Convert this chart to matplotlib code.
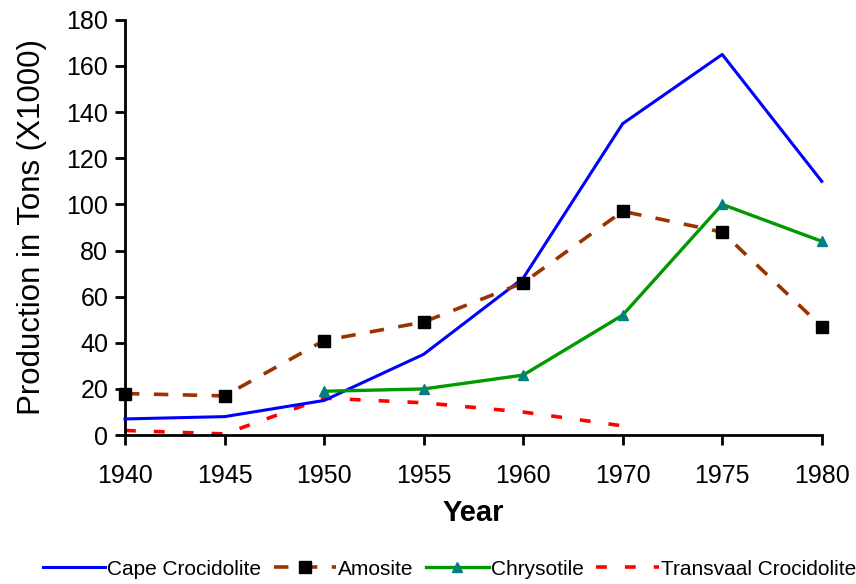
import matplotlib
matplotlib.use("Agg")
import matplotlib.pyplot as plt
import numpy as np

years = ["1940", "1945", "1950", "1955", "1960", "1970", "1975", "1980"]
cape = [7, 8, 15, 35, 68, 135, 165, 110]
amosite = [18, 17, 41, 49, 66, 97, 88, 47]
chrysotile = [None, None, 19, 20, 26, 52, 100, 84]
transvaal = [2, 0.5, 16, 14, 10, 4, None, None]
yticks = [0, 20, 40, 60, 80, 100, 120, 140, 160, 180]

plt.rcParams['font.family'] = ['Liberation Sans', 'DejaVu Sans']

fig = plt.figure(figsize=(8.56, 5.84), dpi=100)
ax = fig.add_axes([0.146, 0.255, 0.814, 0.711])

x = np.arange(len(years))

def arr(v):
    return np.array([np.nan if a is None else a for a in v], dtype=float)

ax.plot(x, arr(cape), color='#0000ff', lw=2.2, label='Cape Crocidolite', zorder=3,
        clip_on=False)
ax.plot(x, arr(amosite), color='#993300', lw=2.6, ls=(0, (4, 4)), marker='s',
        markersize=9, markerfacecolor='black', markeredgecolor='black',
        label='Amosite', zorder=4, clip_on=False)
ax.plot(x, arr(chrysotile), color='#009900', lw=2.4, marker='^', markersize=7,
        markerfacecolor='#008080', markeredgecolor='#008080',
        label='Chrysotile', zorder=3, clip_on=False)
ax.plot(x, arr(transvaal), color='#ff0000', lw=2.6, ls=(0, (3, 5)),
        label='Transvaal Crocidolite', zorder=2, clip_on=False)

ax.set_xlim(0, len(years) - 1)
ax.set_ylim(0, 180)
ax.set_yticks(yticks)
ax.set_xticks(x)
ax.set_xticklabels(years)
for s in ['top', 'right']:
    ax.spines[s].set_visible(False)
for s in ['left', 'bottom']:
    ax.spines[s].set_linewidth(2)
ax.tick_params(axis='both', direction='out', length=7, width=2, labelsize=18)
ax.tick_params(axis='y', pad=5)
ax.tick_params(axis='x', pad=14)
ax.set_xlabel('Year', fontsize=21, fontweight='bold', labelpad=8)
ax.set_ylabel('Production in Tons (X1000)', fontsize=22.5, labelpad=14)

leg = fig.legend(loc='lower left', bbox_to_anchor=(0.04, -0.005), ncol=4,
                 frameon=False, fontsize=15, handlelength=3.0, columnspacing=0.6,
                 handletextpad=0.1, borderaxespad=0.0)

fig.savefig('out.png', dpi=100)
